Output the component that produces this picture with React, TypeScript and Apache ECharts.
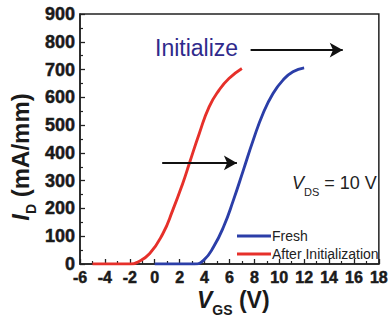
import React, { useEffect, useRef } from "react";
import * as echarts from "echarts";

const xTicks = [-6, 18, 2];
const yTicks = [0, 900, 100];

const freshVgs = [0, 3.2, 3.94, 4.73, 5.53, 6.32, 7.12, 7.91, 8.7, 9.5, 10.3, 11.1, 12];
const freshId = [0, 0, 14, 62, 134, 230, 338, 446, 542, 614, 662, 692, 706];

const initVgs = [-5, -1.9, -1.45, -0.4, 0.66, 1.45, 2.25, 2.78, 3.58, 4.37, 5.17, 5.96, 7];
const initId = [0, 0, 5, 38, 110, 194, 290, 362, 470, 566, 626, 668, 704];

const arrowTop = [[7.7, 770], [15.1, 770]];
const arrowMid = [[0.6, 364], [6.6, 364]];

const FONT = "Liberation Sans";
const BLUE = "#2b3ea8";
const RED = "#e6302a";

export default function App() {
  const ref = useRef<HTMLDivElement>(null);
  useEffect(() => {
    if (!ref.current) return;
    const chart = echarts.init(ref.current, undefined, { renderer: "svg" });
    const arrowLine = (pts: number[][]) => ({
      silent: true,
      symbol: ["none", "arrow"],
      symbolSize: [11, 13],
      label: { show: false },
      lineStyle: { color: "#111", width: 1.8, type: "solid" },
      data: [[{ coord: pts[0] }, { coord: pts[1] }]],
    });
    const boldLabel = (size: number, margin: number) => ({
      color: "#1a1a1a", fontWeight: "bold", fontSize: size, fontFamily: FONT, margin,
      textBorderColor: "#1a1a1a", textBorderWidth: 0.5,
    });
    chart.setOption({
      animation: false,
      grid: {
        left: 80, right: 9, top: 14, bottom: 60,
        show: true, borderColor: "#222", borderWidth: 1.5,
      },
      xAxis: {
        type: "value",
        min: xTicks[0], max: xTicks[1], interval: xTicks[2],
        axisLine: { onZero: false, lineStyle: { color: "#222", width: 1.5 } },
        axisTick: { inside: true, length: 5, lineStyle: { color: "#222", width: 1.3 } },
        minorTick: { show: true, splitNumber: 2, length: 3, lineStyle: { color: "#222", width: 1.2 } },
        splitLine: { show: false },
        axisLabel: boldLabel(16, 5),
      },
      yAxis: {
        type: "value",
        min: yTicks[0], max: yTicks[1], interval: yTicks[2],
        axisLine: { show: true, onZero: false, lineStyle: { color: "#222", width: 1.5 } },
        axisTick: { show: true, inside: true, length: 5, lineStyle: { color: "#222", width: 1.3 } },
        minorTick: { show: true, splitNumber: 2, length: 3, lineStyle: { color: "#222", width: 1.2 } },
        splitLine: { show: false },
        axisLabel: boldLabel(18, 5),
      },
      legend: {
        orient: "vertical",
        left: 232, top: 224,
        icon: "rect",
        itemWidth: 34, itemHeight: 3, itemGap: 4,
        textStyle: { fontSize: 14, fontFamily: FONT, color: "#222", padding: [0, 0, 0, -4], lineHeight: 14 },
        data: ["Fresh", "After Initialization"],
      },
      series: [
        {
          name: "Fresh", type: "line", smooth: 0.5, symbol: "none",
          lineStyle: { color: BLUE, width: 2.9 }, itemStyle: { color: BLUE },
          data: freshVgs.map((v, i) => [v, freshId[i]]),
          markLine: arrowLine(arrowTop),
        },
        {
          name: "After Initialization", type: "line", smooth: 0.5, symbol: "none",
          lineStyle: { color: RED, width: 2.9 }, itemStyle: { color: RED },
          data: initVgs.map((v, i) => [v, initId[i]]),
          markLine: arrowLine(arrowMid),
        },
      ],
      graphic: [
        {
          type: "text", left: 155, top: 36,
          style: { text: "Initialize", fontSize: 23, fontFamily: FONT, fill: "#2f2a8c" },
        },
        {
          type: "text", left: 292, top: 174,
          style: {
            text: "{v|V}{s|DS}{t| = 10 V}",
            fontFamily: FONT,
            rich: {
              v: { fontSize: 18, fontStyle: "italic", fontFamily: FONT, fill: "#222", verticalAlign: "bottom" },
              s: { fontSize: 11, fontFamily: FONT, fill: "#222", verticalAlign: "bottom", padding: [0, 0, -5, 0] },
              t: { fontSize: 18, fontFamily: FONT, fill: "#222", verticalAlign: "bottom" },
            },
          },
        },
        {
          type: "text", left: 197, top: 288,
          style: {
            text: "{v|V}{s|GS}{t| (V)}",
            fontFamily: FONT,
            rich: {
              v: { fontSize: 23, fontWeight: "bold", fontStyle: "italic", fontFamily: FONT, fill: "#1a1a1a", verticalAlign: "bottom" },
              s: { fontSize: 14, fontWeight: "bold", fontFamily: FONT, fill: "#1a1a1a", verticalAlign: "bottom", padding: [0, 0, -6, 0] },
              t: { fontSize: 23, fontWeight: "bold", fontFamily: FONT, fill: "#1a1a1a", verticalAlign: "bottom" },
            },
          },
        },
        {
          type: "text", x: 20, y: 157, rotation: Math.PI / 2,
          style: {
            text: "{v|I}{s|D}{t| (mA/mm)}",
            align: "center", verticalAlign: "middle",
            fontFamily: FONT,
            rich: {
              v: { fontSize: 24, fontWeight: "bold", fontStyle: "italic", fontFamily: FONT, fill: "#1a1a1a", verticalAlign: "bottom" },
              s: { fontSize: 14, fontWeight: "bold", fontFamily: FONT, fill: "#1a1a1a", verticalAlign: "bottom", padding: [0, 0, -6, 0] },
              t: { fontSize: 24, fontWeight: "bold", fontFamily: FONT, fill: "#1a1a1a", verticalAlign: "bottom" },
            },
          },
        },
      ],
    });
    return () => chart.dispose();
  }, []);
  return <div ref={ref} style={{ width: 391, height: 324, position: "absolute", left: 0, top: 0 }} />;
}
